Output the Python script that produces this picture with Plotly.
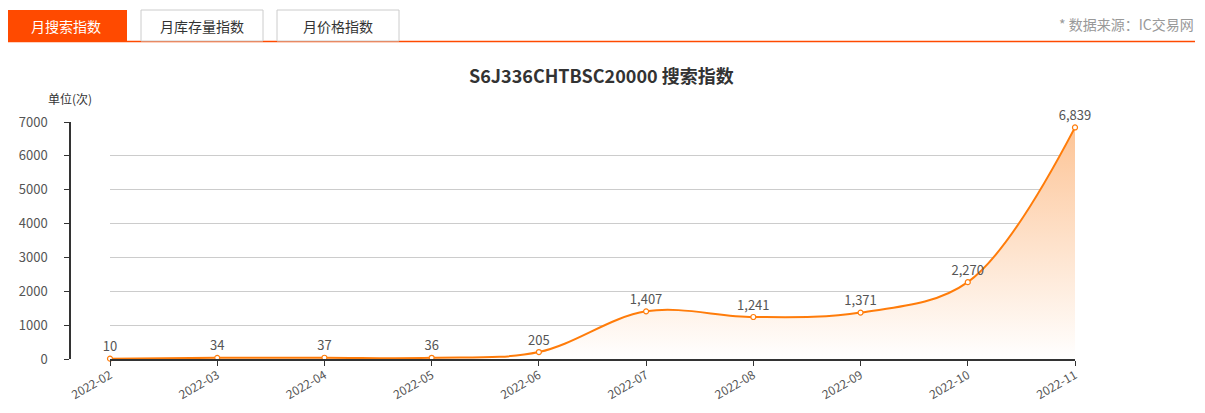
import plotly.graph_objects as go

months = ["2022-02", "2022-03", "2022-04", "2022-05", "2022-06",
          "2022-07", "2022-08", "2022-09", "2022-10", "2022-11"]
search_index = [10, 34, 37, 36, 205, 1407, 1241, 1371, 2270, 6839]
y_ticks = [0, 1000, 2000, 3000, 4000, 5000, 6000, 7000]
tabs = ["月搜索指数", "月库存量指数", "月价格指数"]

OFF = 8  # default page body margin
W, H = 1205 - 2 * OFF, 413 - 2 * OFF
FONT = "Noto Sans CJK SC, Microsoft YaHei, sans-serif"
ORANGE = "#ff7c0a"

def px(x):
    return (x - OFF) / W

def py(y):
    return 1 - (y - OFF) / H

xs = list(range(len(months)))
labels = [f"{v:,}" for v in search_index]

fig = go.Figure()
fig.add_trace(go.Scatter(
    x=xs, y=search_index, mode="lines+markers+text",
    line=dict(color=ORANGE, width=2, shape="spline", smoothing=1.0),
    marker=dict(size=5, color="white", line=dict(color=ORANGE, width=1.2)),
    text=labels, textposition="top center",
    textfont=dict(family=FONT, size=13, color="#555"),
    fill="tozeroy",
    fillgradient=dict(type="vertical",
                      colorscale=[[0, "rgba(255,255,255,1)"], [1, "rgba(253,196,150,1)"]]),
    cliponaxis=False, hoverinfo="x+y", showlegend=False,
))

shapes = []
annotations = []
# underline of tabs
shapes.append(dict(type="line", xref="paper", yref="paper",
                   x0=px(5), x1=px(1195), y0=py(41.5), y1=py(41.5),
                   line=dict(color="#ff4a00", width=1.5)))
tab_x = [(5, 127), (141, 263), (277, 399)]
for i, (t, (a, b)) in enumerate(zip(tabs, tab_x)):
    if i == 0:
        shapes.append(dict(type="rect", xref="paper", yref="paper",
                           x0=px(a), x1=px(b), y0=py(41), y1=py(10),
                           fillcolor="#ff4a00", line=dict(width=0)))
        col = "white"
    else:
        shapes.append(dict(type="rect", xref="paper", yref="paper",
                           x0=px(a), x1=px(b), y0=py(41), y1=py(10),
                           fillcolor="white", line=dict(color="#cccccc", width=1)))
        col = "#333"
    annotations.append(dict(text=t, xref="paper", yref="paper",
                            x=px((a + b) / 2), y=py(26), showarrow=False,
                            xanchor="center", yanchor="middle",
                            font=dict(family=FONT, size=14, color=col)))
annotations.append(dict(text="* 数据来源：IC交易网", xref="paper", yref="paper",
                        x=px(1196), y=py(24), showarrow=False,
                        xanchor="right", yanchor="middle",
                        font=dict(family=FONT, size=14, color="#999")))
annotations.append(dict(text="<b>S6J336CHTBSC20000 搜索指数</b>", xref="paper", yref="paper",
                        x=px(601), y=py(75), showarrow=False,
                        xanchor="center", yanchor="middle",
                        font=dict(family=FONT, size=18, color="#333")))
annotations.append(dict(text="单位(次)", xref="paper", yref="paper",
                        x=px(70), y=py(99), showarrow=False,
                        xanchor="center", yanchor="middle",
                        font=dict(family=FONT, size=12, color="#333")))

fig.update_layout(
    width=W, height=H,
    margin=dict(l=0, r=0, t=0, b=0, autoexpand=False),
    paper_bgcolor="white", plot_bgcolor="white",
    shapes=shapes, annotations=annotations,
    xaxis=dict(domain=[px(110), px(1075)], range=[0, len(months) - 1],
               tickvals=xs, ticktext=months, tickangle=-30,
               showgrid=False, zeroline=False, automargin=False,
               showline=True, linecolor="#333", linewidth=1.5,
               ticks="outside", ticklen=5, tickcolor="#333",
               ticklabelstandoff=-2,
               tickfont=dict(family=FONT, size=12, color="#555")),
    yaxis=dict(domain=[py(359), py(122)], range=[0, 7000],
               anchor="free", position=px(70), automargin=False,
               tickvals=y_ticks, showgrid=True, gridcolor="#cccccc",
               zeroline=False, showline=True, linecolor="#333", linewidth=1.5,
               ticks="outside", ticklen=5, tickcolor="#333",
               ticklabelstandoff=14,
               tickfont=dict(family=FONT, size=13, color="#555")),
)

fig.write_html("out.html")
